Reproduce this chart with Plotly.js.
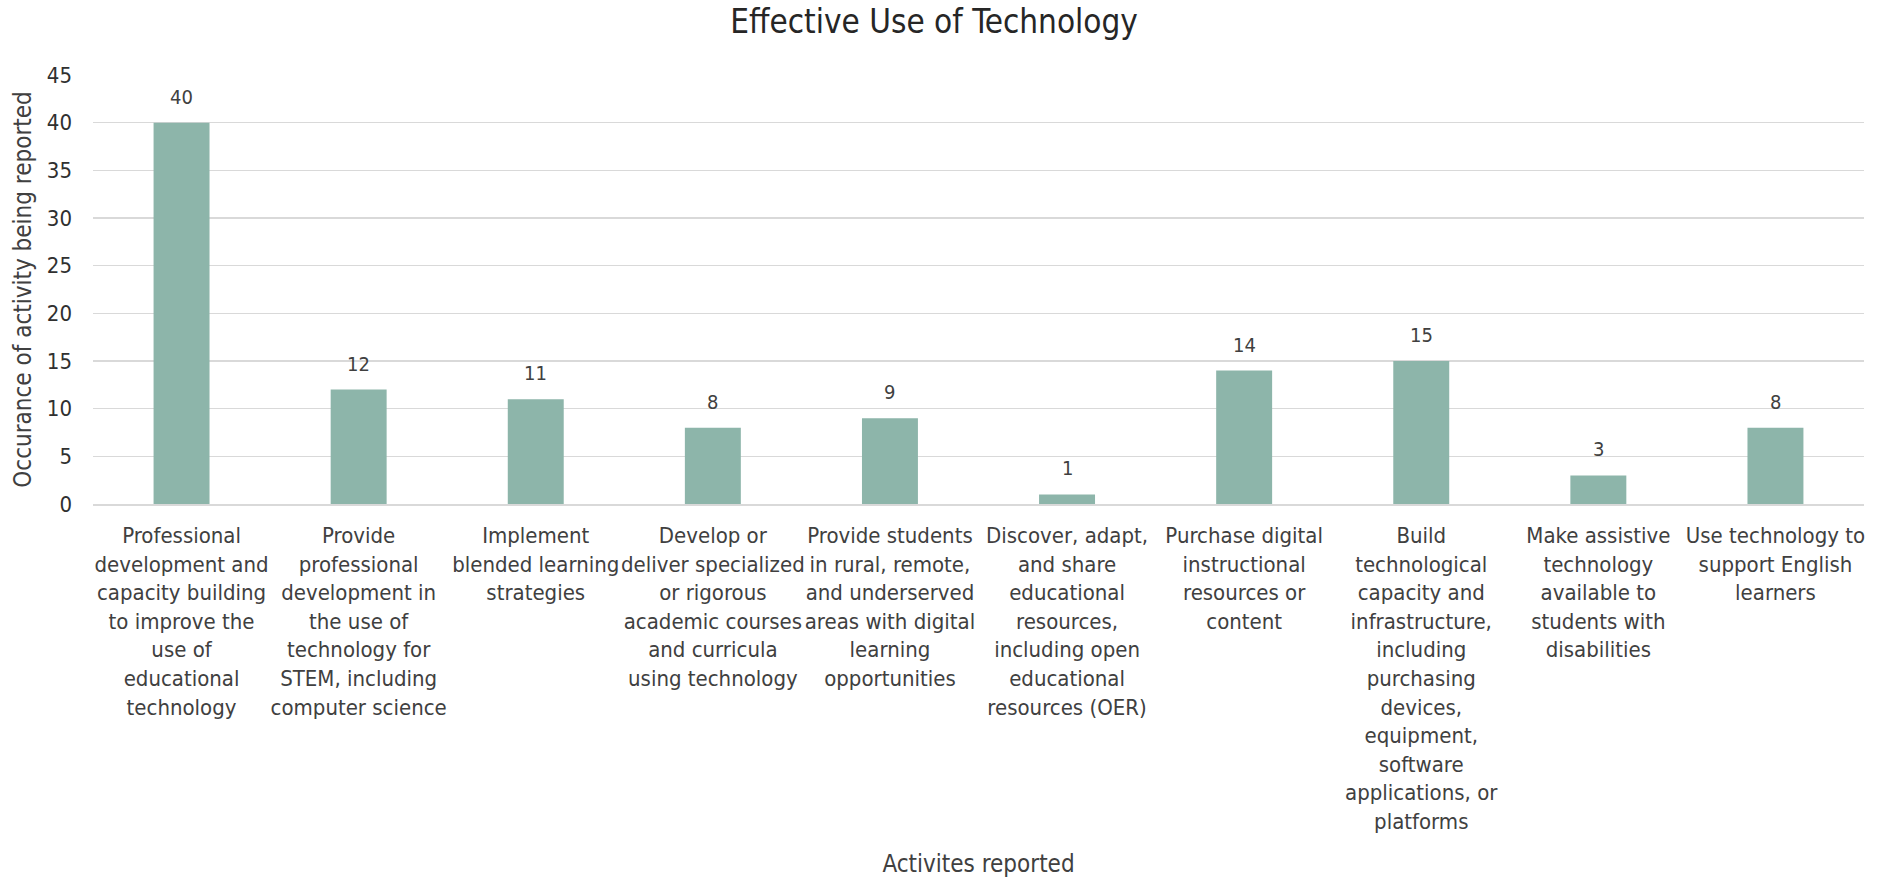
<!DOCTYPE html>
<html>
<head>
<meta charset="utf-8">
<script src="https://cdn.plot.ly/plotly-3.0.1.min.js"></script>
<style>html,body{margin:0;padding:0;background:#fff;}#chart{width:1884px;height:881px;}</style>
</head>
<body>
<div id="chart"></div>
<script>
const categories = [
  "Professional<br>development and<br>capacity building<br>to improve the<br>use of<br>educational<br>technology",
  "Provide<br>professional<br>development in<br>the use of<br>technology for<br>STEM, including<br>computer science",
  "Implement<br>blended learning<br>strategies",
  "Develop or<br>deliver specialized<br>or rigorous<br>academic courses<br>and curricula<br>using technology",
  "Provide students<br>in rural, remote,<br>and underserved<br>areas with digital<br>learning<br>opportunities",
  "Discover, adapt,<br>and share<br>educational<br>resources,<br>including open<br>educational<br>resources (OER)",
  "Purchase digital<br>instructional<br>resources or<br>content",
  "Build<br>technological<br>capacity and<br>infrastructure,<br>including<br>purchasing<br>devices,<br>equipment,<br>software<br>applications, or<br>platforms",
  "Make assistive<br>technology<br>available to<br>students with<br>disabilities",
  "Use technology to<br>support English<br>learners"
];
const values = [40, 12, 11, 8, 9, 1, 14, 15, 3, 8];
const yTicks = [0, 5, 10, 15, 20, 25, 30, 35, 40, 45];

const FONT = "'Liberation Sans Narrow', 'DejaVu Sans Condensed', 'Liberation Sans', sans-serif";
const TXT = '#404040';

const trace = {
  type: 'bar',
  x: categories,
  y: values,
  marker: {color: '#8db5aa'},
  hoverinfo: 'skip'
};

const annotations = categories.map((c, i) => ({
  x: c, y: values[i], xref: 'x', yref: 'y',
  text: String(values[i]),
  showarrow: false,
  yanchor: 'middle', yshift: 26,
  font: {family: FONT, size: 20, color: TXT}
}));

const layout = {
  width: 1884, height: 881,
  margin: {l: 93, r: 20, t: 75, b: 377},
  paper_bgcolor: '#fff', plot_bgcolor: '#fff',
  bargap: 0.684,
  showlegend: false,
  font: {family: FONT, color: TXT},
  annotations: annotations,
  title: {text: 'Effective Use of Technology', x: 0.4958, xanchor: 'center', y: 0.9755, yanchor: 'middle',
          font: {family: FONT, size: 33, color: '#262626'}},
  xaxis: {
    type: 'category',
    range: [-0.5, 9.5],
    showgrid: false,
    showline: true, linecolor: '#d9d9d9', linewidth: 1.5,
    ticks: '', tickangle: 0,
    tickfont: {family: FONT, size: 22, color: TXT},
    ticklabelstandoff: 11,
    title: {text: 'Activites reported', font: {family: FONT, size: 24, color: TXT}, standoff: 22},
    automargin: false
  },
  yaxis: {
    range: [0, 45],
    tickvals: yTicks,
    showgrid: true, gridcolor: '#d9d9d9', gridwidth: 1.5,
    zeroline: false, showline: false,
    ticks: '',
    tickfont: {family: FONT, size: 22, color: '#303030'},
    ticklabelstandoff: 20,
    title: {text: 'Occurance of activity being reported', font: {family: FONT, size: 24, color: TXT}, standoff: 8},
    automargin: false
  }
};

Plotly.newPlot('chart', [trace], layout, {displayModeBar: false, staticPlot: true});
</script>
</body>
</html>
